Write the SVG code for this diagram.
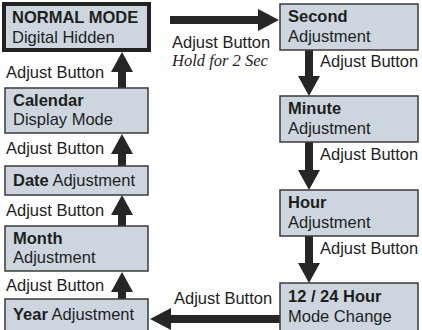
<svg xmlns="http://www.w3.org/2000/svg" width="422" height="330" viewBox="0 0 422 330">
<style>
.box{fill:#cdd6df;stroke:#3a3a3a;stroke-width:1.5}
.main{fill:#cdd6df;stroke:#222;stroke-width:4}
text{font-family:"Liberation Sans",Arial,sans-serif;font-size:16.5px;fill:#1e1e1e}
.b{font-weight:bold}
.it{font-family:"Liberation Serif","Times New Roman",serif;font-style:italic}
.sh{stroke:#262626;stroke-width:8;fill:none}
.hd{fill:#262626}
</style>
<rect width="422" height="330" fill="#fff"/>
<g id="connectors">
<line class="sh" x1="170" y1="20" x2="262" y2="20"/><polygon class="hd" points="258,9 279,20 258,31"/>
<line class="sh" x1="309" y1="50" x2="309" y2="80"/><polygon class="hd" points="298,76 309,96 320,76"/>
<line class="sh" x1="309" y1="142" x2="309" y2="173"/><polygon class="hd" points="298,170 309,190 320,170"/>
<line class="sh" x1="309" y1="236" x2="309" y2="266"/><polygon class="hd" points="298,263 309,283 320,263"/>
<line class="sh" x1="280" y1="319" x2="168" y2="319"/><polygon class="hd" points="171,308 150,319 171,330"/>
<line class="sh" x1="122" y1="299" x2="122" y2="288"/><polygon class="hd" points="111,292 122,272 133,292"/>
<line class="sh" x1="122" y1="226" x2="122" y2="211"/><polygon class="hd" points="111,215 122,195 133,215"/>
<line class="sh" x1="122" y1="166" x2="122" y2="150"/><polygon class="hd" points="111,154 122,134 133,154"/>
<line class="sh" x1="122" y1="88" x2="122" y2="68"/><polygon class="hd" points="111,72 122,52 133,72"/>
<text x="172" y="48">Adjust Button</text>
<text class="it" x="172" y="66">Hold for 2 Sec</text>
<text x="320" y="67">Adjust Button</text>
<text x="320" y="160">Adjust Button</text>
<text x="320" y="254">Adjust Button</text>
<text x="174" y="304">Adjust Button</text>
<text x="6" y="78">Adjust Button</text>
<text x="6" y="154">Adjust Button</text>
<text x="6" y="216">Adjust Button</text>
<text x="6" y="291">Adjust Button</text>
</g>
<g id="normal"><rect class="main" x="4" y="4" width="145" height="46"/><text class="b" x="12" y="23">NORMAL MODE</text><text x="12" y="43">Digital Hidden</text></g>
<g id="calendar"><rect class="box" x="5" y="88" width="143" height="45"/><text class="b" x="13" y="106">Calendar</text><text x="13" y="125">Display Mode</text></g>
<g id="date"><rect class="box" x="5" y="166" width="143" height="29"/><text x="13" y="186"><tspan class="b">Date</tspan> Adjustment</text></g>
<g id="month"><rect class="box" x="5" y="226" width="143" height="45"/><text class="b" x="13" y="244">Month</text><text x="13" y="263">Adjustment</text></g>
<g id="year"><rect class="box" x="5" y="299" width="143" height="32"/><text x="13" y="320"><tspan class="b">Year</tspan> Adjustment</text></g>
<g id="second"><rect class="box" x="280" y="4" width="138" height="46"/><text class="b" x="288" y="22">Second</text><text x="288" y="42">Adjustment</text></g>
<g id="minute"><rect class="box" x="280" y="96" width="138" height="46"/><text class="b" x="288" y="114">Minute</text><text x="288" y="134">Adjustment</text></g>
<g id="hour"><rect class="box" x="280" y="190" width="138" height="46"/><text class="b" x="288" y="208">Hour</text><text x="288" y="228">Adjustment</text></g>
<g id="mode1224"><rect class="box" x="280" y="283" width="138" height="48"/><text class="b" x="288" y="302">12 / 24 Hour</text><text x="288" y="322">Mode Change</text></g>
</svg>
